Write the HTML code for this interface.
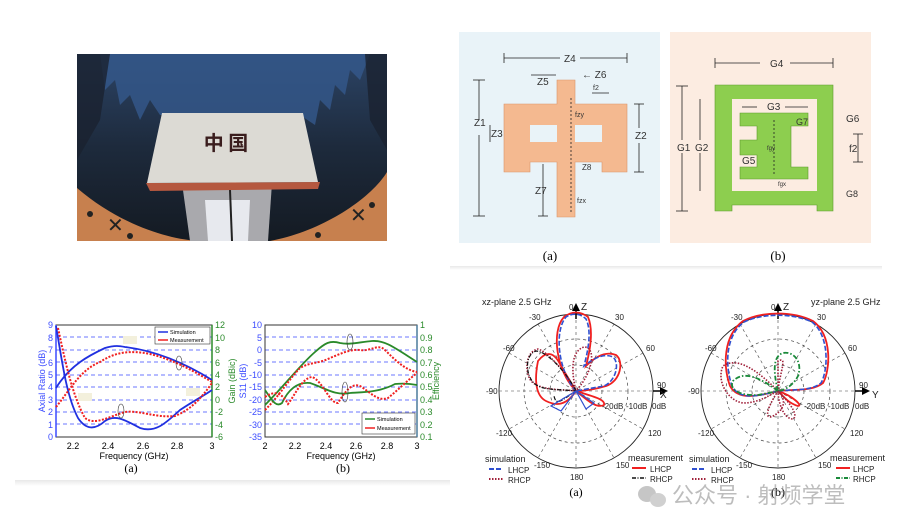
<!DOCTYPE html>
<html><head><meta charset="utf-8"><style>
html,body{margin:0;padding:0;background:#fff;}
svg{display:block;font-family:"Liberation Sans",Arial,sans-serif;}
.s{font-family:"Liberation Serif",serif;}
</style></head><body>
<svg width="902" height="531" viewBox="0 0 902 531" xmlns="http://www.w3.org/2000/svg">
<defs>
<linearGradient id="bg" x1="0" y1="0" x2="0" y2="1"><stop offset="0" stop-color="#2c4466"/><stop offset="0.5" stop-color="#1d2a3c"/><stop offset="1" stop-color="#141a22"/></linearGradient>
<linearGradient id="fade" x1="0" y1="0" x2="0" y2="1"><stop offset="0" stop-color="#e8e8e8"/><stop offset="1" stop-color="#fff"/></linearGradient>
</defs>

<!-- Photo -->
<rect x="77" y="54" width="310" height="187" fill="url(#bg)"/>
<path d="M100 54 L370 54 L360 80 L350 70 L345 95 L335 85 L330 110 L320 100 L315 125 L300 115 L160 115 L150 100 L140 120 L130 95 L120 105 L115 80 L105 90 Z" fill="#34598c" opacity="0.8"/>
<path d="M77 54 L110 54 L100 120 L77 160 Z" fill="#1a2230" opacity="0.8"/>
<path d="M387 54 L365 54 L370 120 L387 150 Z" fill="#1a2230" opacity="0.8"/>
<path d="M77 188 C120 225 170 240 200 241 L77 241 Z" fill="#c7804e"/>
<path d="M387 172 C370 200 320 232 270 241 L387 241 Z" fill="#c7804e"/>
<path d="M182 183 L272 183 L268 241 L190 241 Z" fill="#a9a9ad"/>
<path d="M205 200 L250 200 L248 241 L208 241 Z" fill="#e7e9ee"/>
<line x1="230" y1="190" x2="232" y2="241" stroke="#222" stroke-width="2"/>
<path d="M146 183 L320 182 L318 189 L150 191 Z" fill="#b5583f"/>
<polygon points="162,113 303,113 318,182 147,183" fill="#dcdad4"/>
<text x="226" y="150" font-size="20" font-weight="bold" text-anchor="middle" fill="#3a1d1d" font-family="'Noto Sans CJK SC',sans-serif">中 国</text>
<text x="107" y="232" font-size="20" fill="#222">✕</text>
<text x="350" y="222" font-size="20" fill="#222">✕</text>
<circle cx="90" cy="214" r="3" fill="#222"/><circle cx="130" cy="236" r="3" fill="#222"/><circle cx="372" cy="205" r="3" fill="#222"/><circle cx="318" cy="235" r="3" fill="#222"/>

<!-- Panel a -->
<rect x="459" y="32" width="201" height="211" fill="#e9f3f8"/>
<path d="M557 80 L575 80 L575 104 L627 104 L627 172 L602 172 L602 162 L575 162 L575 217 L557 217 L557 162 L530 162 L530 172 L504 172 L504 104 L557 104 Z" fill="#f4b990" stroke="#d9936a" stroke-width="0.6"/>
<rect x="530" y="125" width="27" height="17" fill="#e9f3f8"/>
<rect x="575" y="125" width="27" height="17" fill="#e9f3f8"/>
<g stroke="#222" stroke-width="0.8" fill="none">
<line x1="504" y1="58" x2="560" y2="58"/><line x1="580" y1="58" x2="627" y2="58"/>
<line x1="504" y1="53" x2="504" y2="63"/><line x1="627" y1="53" x2="627" y2="63"/>
<line x1="479" y1="80" x2="479" y2="120"/><line x1="479" y1="135" x2="479" y2="216"/>
<line x1="473" y1="80" x2="485" y2="80"/><line x1="473" y1="216" x2="485" y2="216"/>
<line x1="639" y1="104" x2="639" y2="128"/><line x1="639" y1="143" x2="639" y2="172"/>
<line x1="634" y1="104" x2="644" y2="104"/><line x1="634" y1="172" x2="644" y2="172"/>
<line x1="543" y1="164" x2="543" y2="216"/><line x1="538" y1="216" x2="548" y2="216"/>
<line x1="531" y1="75" x2="556" y2="75"/><line x1="490" y1="125" x2="490" y2="142"/>
<line x1="592" y1="93" x2="609" y2="93"/><line x1="571" y1="98" x2="571" y2="213" stroke-dasharray="2,2"/>
</g>
<g font-size="10" fill="#333">
<text x="564" y="62">Z4</text><text x="537" y="85">Z5</text><text x="582" y="78">← Z6</text>
<text x="474" y="126">Z1</text><text x="635" y="139">Z2</text><text x="491" y="137">Z3</text>
<text x="535" y="194">Z7</text><text x="582" y="170" font-size="8">Z8</text>
<text x="593" y="90" font-size="7">f2</text><text x="575" y="117" font-size="7">fzy</text><text x="577" y="203" font-size="7">fzx</text>
</g>
<text x="550" y="260" font-size="13" text-anchor="middle" class="s">(a)</text>

<!-- Panel b -->
<rect x="670" y="32" width="201" height="211" fill="#fcece1"/>
<path d="M715 85 L833 85 L833 211 L817 211 L817 205 L732 205 L732 211 L715 211 Z" fill="#8dce4f" stroke="#5d9a2d" stroke-width="0.6"/>
<rect x="732" y="99" width="85" height="92" fill="#fcece1"/>
<path d="M740 113 L808 113 L808 126 L791 126 L791 167 L808 167 L808 179 L740 179 L740 167 L757 167 L757 155 L740 155 L740 140 L757 140 L757 126 L740 126 Z" fill="#8dce4f" stroke="#5d9a2d" stroke-width="0.6"/>
<g stroke="#222" stroke-width="0.8" fill="none">
<line x1="715" y1="63" x2="760" y2="63"/><line x1="790" y1="63" x2="833" y2="63"/>
<line x1="715" y1="58" x2="715" y2="68"/><line x1="833" y1="58" x2="833" y2="68"/>
<line x1="682" y1="86" x2="682" y2="140"/><line x1="682" y1="153" x2="682" y2="211"/>
<line x1="676" y1="86" x2="688" y2="86"/><line x1="676" y1="211" x2="688" y2="211"/>
<line x1="700" y1="99" x2="700" y2="140"/><line x1="700" y1="153" x2="700" y2="191"/>
<line x1="742" y1="107" x2="757" y2="107"/><line x1="785" y1="107" x2="808" y2="107"/>
<line x1="858" y1="134" x2="858" y2="162"/><line x1="853" y1="134" x2="863" y2="134"/><line x1="853" y1="162" x2="863" y2="162"/>
<line x1="774" y1="120" x2="774" y2="175" stroke-dasharray="2,2"/>
</g>
<g font-size="10" fill="#333">
<text x="770" y="67">G4</text><text x="767" y="110">G3</text><text x="846" y="122">G6</text>
<text x="796" y="125" font-size="9">G7</text><text x="677" y="151">G1</text><text x="695" y="151">G2</text>
<text x="742" y="164">G5</text><text x="849" y="152">f2</text><text x="846" y="197" font-size="9">G8</text>
<text x="767" y="150" font-size="6">fgy</text><text x="778" y="186" font-size="6">fgx</text>
</g>
<text x="778" y="260" font-size="13" text-anchor="middle" class="s">(b)</text>
<rect x="450" y="266" width="432" height="4" fill="url(#fade)"/>

<!-- Plot a -->
<g>
<g stroke="#3b4bff" stroke-width="0.8" stroke-dasharray="4,3">
<line x1="56" y1="337" x2="212" y2="337"/><line x1="56" y1="350" x2="212" y2="350"/><line x1="56" y1="362" x2="212" y2="362"/>
<line x1="56" y1="375" x2="212" y2="375"/><line x1="56" y1="387" x2="212" y2="387"/><line x1="56" y1="400" x2="212" y2="400"/>
<line x1="56" y1="412" x2="212" y2="412"/><line x1="56" y1="424" x2="212" y2="424"/>
</g>
<rect x="56" y="325" width="156" height="112" fill="none" stroke="#333" stroke-width="1"/>
<line x1="56" y1="325" x2="56" y2="437" stroke="#3b4bff" stroke-width="1.5"/>
<line x1="212" y1="325" x2="212" y2="437" stroke="#2a8a2a" stroke-width="1.5"/>
<path d="M56 326 C62 360 66 395 78 418 C86 430 95 430 105 421 C115 414 125 420 140 428 C155 433 165 424 180 410 C195 400 205 395 212 390" fill="none" stroke="#2030e0" stroke-width="1.8"/>
<path d="M56 388 C70 365 90 355 105 348 C115 345 120 346 125 347 C150 350 180 360 212 380" fill="none" stroke="#2030e0" stroke-width="1.8"/>
<path d="M58 328 C65 360 72 395 85 418 C95 426 110 416 125 412 C140 410 155 418 175 416 C190 410 200 400 212 383" fill="none" stroke="#f02020" stroke-width="2" stroke-dasharray="2,1.5"/>
<path d="M56 407 C70 390 80 370 100 362 C115 352 130 350 150 354 C175 360 195 372 212 382" fill="none" stroke="#f02020" stroke-width="2" stroke-dasharray="2,1.5"/>
<rect x="155" y="327" width="55" height="17" fill="#fff" stroke="#333" stroke-width="0.6"/>
<line x1="158" y1="332" x2="168" y2="332" stroke="#2030e0" stroke-width="1.5"/><line x1="158" y1="340" x2="168" y2="340" stroke="#f02020" stroke-width="1.5"/>
<text x="170" y="334" font-size="5.5">Simulation</text><text x="170" y="342" font-size="5.5">Measurement</text>
<ellipse cx="179" cy="363" rx="3" ry="7" fill="none" stroke="#333" stroke-width="0.6"/>
<ellipse cx="121" cy="411" rx="3" ry="7" fill="none" stroke="#333" stroke-width="0.6"/>
<rect x="123" y="336" width="14" height="8" fill="#f3f0dc"/><rect x="78" y="393" width="14" height="8" fill="#f3f0dc"/><rect x="186" y="388" width="14" height="8" fill="#f3f0dc"/>
<g font-size="9" fill="#3b4bff" text-anchor="end">
<text x="53" y="328">9</text><text x="53" y="341">8</text><text x="53" y="353">7</text><text x="53" y="366">6</text><text x="53" y="378">5</text>
<text x="53" y="390">4</text><text x="53" y="403">3</text><text x="53" y="415">2</text><text x="53" y="428">1</text><text x="53" y="440">0</text>
</g>
<g font-size="9" fill="#2a8a2a">
<text x="215" y="328">12</text><text x="215" y="341">10</text><text x="215" y="353">8</text><text x="215" y="366">6</text><text x="215" y="378">4</text>
<text x="215" y="390">2</text><text x="215" y="403">0</text><text x="215" y="415">-2</text><text x="215" y="428">-4</text><text x="215" y="440">-6</text>
</g>
<text transform="translate(45,381) rotate(-90)" font-size="9" fill="#3b4bff" text-anchor="middle">Axial Ratio (dB)</text>
<text transform="translate(235,381) rotate(-90)" font-size="9" fill="#2a8a2a" text-anchor="middle">Gain (dBic)</text>
<g font-size="9" text-anchor="middle"><text x="73" y="449">2.2</text><text x="108" y="449">2.4</text><text x="143" y="449">2.6</text><text x="177" y="449">2.8</text><text x="212" y="449">3</text></g>
<text x="134" y="459" font-size="9" text-anchor="middle">Frequency (GHz)</text>
<text x="131" y="472" font-size="12" text-anchor="middle" class="s">(a)</text>
</g>

<!-- Plot b -->
<g>
<g stroke="#3b4bff" stroke-width="0.8" stroke-dasharray="4,3">
<line x1="265" y1="337" x2="417" y2="337"/><line x1="265" y1="350" x2="417" y2="350"/><line x1="265" y1="362" x2="417" y2="362"/>
<line x1="265" y1="375" x2="417" y2="375"/><line x1="265" y1="387" x2="417" y2="387"/><line x1="265" y1="400" x2="417" y2="400"/>
<line x1="265" y1="412" x2="417" y2="412"/><line x1="265" y1="424" x2="417" y2="424"/>
</g>
<rect x="265" y="325" width="152" height="112" fill="none" stroke="#333" stroke-width="1"/>
<line x1="417" y1="325" x2="417" y2="437" stroke="#4a7a9a" stroke-width="1.5"/>
<path d="M265 405 C285 385 300 365 315 352 C325 343 330 340 340 343 C350 345 360 342 372 341 C385 340 395 348 417 362" fill="none" stroke="#2a8a2a" stroke-width="1.8"/>
<path d="M265 410 C280 395 290 378 300 368 C310 362 318 364 330 358 C340 354 350 349 360 350 C370 352 378 343 385 350 C395 360 405 370 417 372" fill="none" stroke="#f02020" stroke-width="2" stroke-dasharray="2,1.5"/>
<path d="M265 390 C272 400 276 408 282 403 C290 386 300 382 310 383 C325 388 335 396 350 393 C365 392 380 392 395 384 C405 383 412 384 417 385" fill="none" stroke="#2a8a2a" stroke-width="1.8"/>
<path d="M265 397 C275 390 282 393 288 404 C295 395 302 378 312 377 C322 380 330 404 338 403 C346 390 352 383 360 386 C370 392 378 402 388 398 C398 390 408 380 417 373" fill="none" stroke="#f02020" stroke-width="2" stroke-dasharray="2,1.5"/>
<rect x="362" y="413" width="53" height="21" fill="#fff" stroke="#333" stroke-width="0.6"/>
<line x1="365" y1="419" x2="375" y2="419" stroke="#2a8a2a" stroke-width="1.5"/><line x1="365" y1="428" x2="375" y2="428" stroke="#f02020" stroke-width="1.5"/>
<text x="377" y="421" font-size="5.5">Simulation</text><text x="377" y="430" font-size="5.5">Measurement</text>
<ellipse cx="350" cy="342" rx="3" ry="8" fill="none" stroke="#333" stroke-width="0.6"/>
<ellipse cx="345" cy="392" rx="3" ry="10" fill="none" stroke="#333" stroke-width="0.6"/>
<g font-size="9" fill="#3b4bff" text-anchor="end">
<text x="262" y="328">10</text><text x="262" y="341">5</text><text x="262" y="353">0</text><text x="262" y="366">-5</text><text x="262" y="378">-10</text>
<text x="262" y="390">-15</text><text x="262" y="403">-20</text><text x="262" y="415">-25</text><text x="262" y="428">-30</text><text x="262" y="440">-35</text>
</g>
<g font-size="9" fill="#2a8a2a">
<text x="420" y="328">1</text><text x="420" y="341">0.9</text><text x="420" y="353">0.8</text><text x="420" y="366">0.7</text><text x="420" y="378">0.6</text>
<text x="420" y="390">0.5</text><text x="420" y="403">0.4</text><text x="420" y="415">0.3</text><text x="420" y="428">0.2</text><text x="420" y="440">0.1</text>
</g>
<text transform="translate(246,381) rotate(-90)" font-size="9" fill="#3b4bff" text-anchor="middle">S11 (dB)</text>
<text transform="translate(439,381) rotate(-90)" font-size="9" fill="#2a8a2a" text-anchor="middle">Efficiency</text>
<g font-size="9" text-anchor="middle"><text x="265" y="449">2</text><text x="295" y="449">2.2</text><text x="326" y="449">2.4</text><text x="356" y="449">2.6</text><text x="387" y="449">2.8</text><text x="417" y="449">3</text></g>
<text x="341" y="459" font-size="9" text-anchor="middle">Frequency (GHz)</text>
<text x="343" y="472" font-size="12" text-anchor="middle" class="s">(b)</text>
</g>
<rect x="15" y="480" width="435" height="6" fill="url(#fade)"/>

<!-- Polar left -->
<g transform="translate(576,391)">
<circle r="77" fill="none" stroke="#222" stroke-width="0.9"/>
<circle r="52" fill="none" stroke="#444" stroke-width="0.7" stroke-dasharray="3,3"/>
<circle r="26" fill="none" stroke="#444" stroke-width="0.7" stroke-dasharray="3,3"/>
<g stroke="#444" stroke-width="0.6" stroke-dasharray="3,3">
<line x1="-77" y1="0" x2="77" y2="0"/><line x1="0" y1="-77" x2="0" y2="77"/>
<line x1="-38" y1="-67" x2="38" y2="67"/><line x1="38" y1="-67" x2="-38" y2="67"/>
<line x1="-67" y1="-38" x2="67" y2="38"/><line x1="67" y1="-38" x2="-67" y2="38"/>
</g>
<path d="M0 -86 L0 -72" stroke="#000" stroke-width="1.5"/><path d="M-4 -80 L0 -88 L4 -80Z"/>
<path d="M77 0 L88 0" stroke="#000" stroke-width="1.5"/><path d="M84 -4 L92 0 L84 4Z"/>
<path d="M0 0 C-20 -20 -25 -60 -12 -74 C-4 -80 4 -80 12 -74 C18 -60 14 -40 10 -25 C20 -35 30 -40 40 -36 C48 -30 45 -10 30 -5 C20 -2 10 0 0 0 C15 5 30 8 28 14 C20 18 10 8 0 0 C-10 15 -20 15 -30 10 C-40 5 -42 -10 -38 -30 C-30 -40 -22 -40 -15 -25 Z" fill="none" stroke="#f02020" stroke-width="1.8"/>
<path d="M0 0 C-18 -20 -22 -60 -10 -74 C-4 -78 4 -78 10 -72 C16 -60 12 -40 8 -25 C18 -33 28 -38 37 -34 C44 -28 40 -10 28 -5 Z" fill="none" stroke="#3050d0" stroke-width="1.6" stroke-dasharray="5,2"/>
<path d="M0 0 C-10 -20 -30 -40 -38 -42 C-50 -40 -52 -20 -45 -10 C-35 0 -15 -2 0 0 C-5 -20 -5 -40 8 -44 C20 -44 18 -20 0 0 Z" fill="none" stroke="#a0203a" stroke-width="1.6" stroke-dasharray="1.5,1.5"/>
<path d="M0 0 C-10 -20 -30 -40 -40 -40 C-52 -36 -50 -15 -42 -8 C-35 0 -15 -2 0 0 M0 0 C-15 10 -20 15 -22 5" fill="none" stroke="#111" stroke-width="1.2" stroke-dasharray="4,1.5,1,1.5"/>
<path d="M0 0 L-25 15 L-15 20 L0 0 L10 18 L18 12 Z" fill="none" stroke="#3050d0" stroke-width="1.2"/>
</g>
<g font-size="8" fill="#222">
<text x="482" y="305" font-size="9">xz-plane 2.5 GHz</text>
<text x="569" y="310">0</text><text x="581" y="310" font-size="10">Z</text>
<text x="529" y="320">-30</text><text x="615" y="320">30</text>
<text x="503" y="351">-60</text><text x="646" y="351">60</text>
<text x="486" y="394">-90</text><text x="657" y="388">90</text><text x="660" y="398" font-size="10">X</text>
<text x="602" y="409">-20dB</text><text x="626" y="409">-10dB</text><text x="652" y="409">0dB</text>
<text x="496" y="436">-120</text><text x="648" y="436">120</text>
<text x="534" y="468">-150</text><text x="616" y="468">150</text>
<text x="570" y="480">180</text>
<text x="485" y="462" font-size="9">simulation</text>
<text x="508" y="473">LHCP</text><text x="508" y="483">RHCP</text>
<text x="628" y="461" font-size="9">measurement</text>
<text x="650" y="472">LHCP</text><text x="650" y="482">RHCP</text>
</g>
<line x1="489" y1="469" x2="503" y2="469" stroke="#3050d0" stroke-width="2" stroke-dasharray="5,2"/>
<line x1="489" y1="479" x2="503" y2="479" stroke="#a0203a" stroke-width="2" stroke-dasharray="1.5,1.5"/>
<line x1="632" y1="468" x2="646" y2="468" stroke="#f02020" stroke-width="2"/>
<line x1="632" y1="478" x2="646" y2="478" stroke="#111" stroke-width="1.5" stroke-dasharray="4,1.5,1,1.5"/>
<text x="576" y="496" font-size="12" text-anchor="middle" class="s">(a)</text>

<!-- Polar right -->
<g transform="translate(778,391)">
<circle r="77" fill="none" stroke="#222" stroke-width="0.9"/>
<circle r="52" fill="none" stroke="#444" stroke-width="0.7" stroke-dasharray="3,3"/>
<circle r="26" fill="none" stroke="#444" stroke-width="0.7" stroke-dasharray="3,3"/>
<g stroke="#444" stroke-width="0.6" stroke-dasharray="3,3">
<line x1="-77" y1="0" x2="77" y2="0"/><line x1="0" y1="-77" x2="0" y2="77"/>
<line x1="-38" y1="-67" x2="38" y2="67"/><line x1="38" y1="-67" x2="-38" y2="67"/>
<line x1="-67" y1="-38" x2="67" y2="38"/><line x1="67" y1="-38" x2="-67" y2="38"/>
</g>
<path d="M0 -86 L0 -72" stroke="#000" stroke-width="1.5"/><path d="M-4 -80 L0 -88 L4 -80Z"/>
<path d="M77 0 L88 0" stroke="#000" stroke-width="1.5"/><path d="M84 -4 L92 0 L84 4Z"/>
<path d="M0 0 C-20 5 -40 10 -48 -5 C-55 -25 -55 -55 -35 -70 C-15 -80 15 -80 35 -70 C55 -55 52 -20 45 -8 C35 0 20 -2 0 0 C15 5 25 15 20 15 C10 12 5 5 0 0 Z" fill="none" stroke="#f02020" stroke-width="1.8"/>
<path d="M0 0 C-20 5 -38 10 -46 -5 C-53 -25 -53 -55 -34 -69 C-15 -78 15 -78 34 -69 C52 -55 50 -20 43 -8 C33 0 20 -2 0 0 Z" fill="none" stroke="#3050d0" stroke-width="1.6" stroke-dasharray="5,2"/>
<path d="M0 0 C-20 -20 -40 -35 -55 -25 C-62 -10 -50 10 -35 12 C-20 12 -10 5 0 0 C-10 15 -15 30 -5 25 C5 20 10 10 0 0 C15 15 20 25 15 28 C5 28 0 10 0 0 C2 -20 10 -35 0 -30 Z" fill="none" stroke="#a0203a" stroke-width="1.6" stroke-dasharray="1.5,1.5"/>
<path d="M0 0 C-20 -15 -35 -20 -45 -10 C-50 0 -35 5 -20 4 Z M0 0 C-5 -20 -5 -35 5 -38 C15 -40 25 -30 20 -15 C15 -5 5 0 0 0 Z" fill="none" stroke="#1a8a3a" stroke-width="1.8" stroke-dasharray="5,2,1.5,2"/>
</g>
<g font-size="8" fill="#222">
<text x="811" y="305" font-size="9">yz-plane 2.5 GHz</text>
<text x="771" y="310">0</text><text x="783" y="310" font-size="10">Z</text>
<text x="731" y="320">-30</text><text x="817" y="320">30</text>
<text x="705" y="351">-60</text><text x="848" y="351">60</text>
<text x="688" y="394">-90</text><text x="859" y="388">90</text><text x="872" y="398" font-size="10">Y</text>
<text x="804" y="409">-20dB</text><text x="828" y="409">-10dB</text><text x="855" y="409">0dB</text>
<text x="698" y="436">-120</text><text x="850" y="436">120</text>
<text x="736" y="468">-150</text><text x="818" y="468">150</text>
<text x="772" y="480">180</text>
<text x="689" y="462" font-size="9">simulation</text>
<text x="711" y="473">LHCP</text><text x="711" y="483">RHCP</text>
<text x="830" y="461" font-size="9">measurement</text>
<text x="853" y="472">LHCP</text><text x="853" y="482">RHCP</text>
</g>
<line x1="692" y1="469" x2="706" y2="469" stroke="#3050d0" stroke-width="2" stroke-dasharray="5,2"/>
<line x1="692" y1="479" x2="706" y2="479" stroke="#a0203a" stroke-width="2" stroke-dasharray="1.5,1.5"/>
<line x1="836" y1="468" x2="850" y2="468" stroke="#f02020" stroke-width="2"/>
<line x1="836" y1="478" x2="850" y2="478" stroke="#1a8a3a" stroke-width="2" stroke-dasharray="4,1.5,1,1.5"/>
<text x="778" y="496" font-size="12" text-anchor="middle" class="s">(b)</text>

<!-- watermark -->
<g opacity="0.55">
<ellipse cx="647" cy="494" rx="9" ry="8" fill="#999"/><ellipse cx="658" cy="500" rx="8" ry="7" fill="#aaa"/>
<text x="672" y="503" font-size="22" fill="#888" font-family="'Liberation Sans','Noto Sans CJK SC',sans-serif">公众号 · 射频学堂</text>
</g>
</svg>
</body></html>
